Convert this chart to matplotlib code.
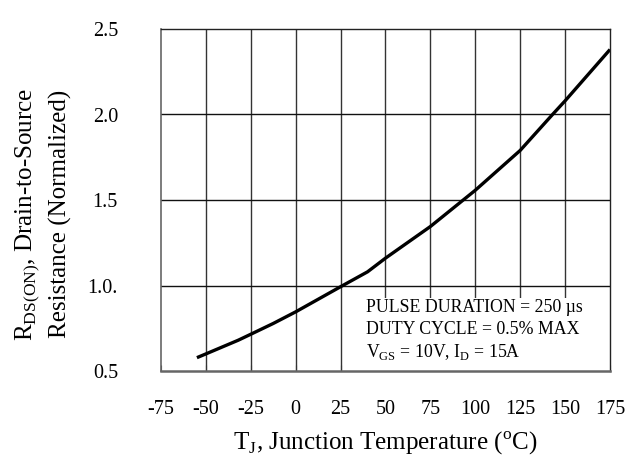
import matplotlib
matplotlib.use("Agg")
import matplotlib.pyplot as plt
from matplotlib.patches import Rectangle

temps = [-55, -50, -32, -25, -12.5, 0, 25, 40, 50, 75, 100, 125, 143, 150, 175]
rds = [0.578, 0.60, 0.68, 0.715, 0.778, 0.846, 0.993, 1.08, 1.16, 1.345, 1.557, 1.79, 2.0, 2.08, 2.38]
xticks = [-75, -50, -25, 0, 25, 50, 75, 100, 125, 150, 175]
yticks = [0.5, 1.0, 1.5, 2.0, 2.5]
ytick_labels = ["0.5", "1.0.", "1.5", "2.0", "2.5"]

plt.rcParams['font.family'] = ['Liberation Serif', 'DejaVu Serif']
plt.rcParams['mathtext.fontset'] = 'custom'
plt.rcParams['mathtext.rm'] = 'Liberation Serif'

fig = plt.figure(figsize=(6.39, 4.61), dpi=100)
ax = fig.add_axes([161/639, 1 - 371/461, (610-161)/639, (371-29)/461])

for x in xticks[1:-1]:
    ax.axvline(x, color='#333333', lw=1.0, zorder=1)
for y in yticks[1:-1]:
    ax.axhline(y, color='#111111', lw=1.0, zorder=1)

# white background box behind the test-condition note
ax.add_patch(Rectangle(((358-161)/449, 0), (610-358)/449, (371-298)/342,
                       transform=ax.transAxes, facecolor='white', edgecolor='none', zorder=2))

ax.plot(temps, rds, color='black', lw=2.4, zorder=3, solid_capstyle='butt')

ax.set_xlim(-75, 175)
ax.set_ylim(0.5, 2.5)
ax.set_xticks(xticks)
ax.set_xticklabels([str(t) for t in xticks])
ax.set_yticks(yticks)
ax.set_yticklabels(ytick_labels)
ax.tick_params(axis='x', direction='in', length=4, width=0.8, pad=21, labelsize=14.5, color='#333333')
ax.tick_params(axis='y', length=0, pad=31, labelsize=14.5)
for t in ax.xaxis.get_major_ticks():
    t.tick1line.set_zorder(4)

for side in ['top', 'right']:
    ax.spines[side].set_color('#222222')
    ax.spines[side].set_linewidth(1.0)
ax.spines['left'].set_color('#666666')
ax.spines['left'].set_linewidth(1.2)
ax.spines['bottom'].set_color('#666666')
ax.spines['bottom'].set_linewidth(1.8)
for s in ax.spines.values():
    s.set_zorder(5)

ax.set_xlabel(r"T$_\mathrm{J}$, Junction Temperature ($^\mathrm{o}$C)", fontsize=18, labelpad=8)
fig.text(28/639, 1 - 214/461, r"R$_\mathrm{DS(ON)}$, Drain-to-Source", rotation=90,
         fontsize=18, ha='center', va='center')
fig.text(60/639, 1 - 214/461, "Resistance (Normalized)", rotation=90,
         fontsize=18, ha='center', va='center')

ax.text(366/639, 1 - 307/461, "PULSE DURATION = 250 µs", transform=fig.transFigure,
        fontsize=12.8, ha='left', va='center', zorder=6)
ax.text(366/639, 1 - 329/461, "DUTY CYCLE = 0.5% MAX", transform=fig.transFigure,
        fontsize=12.8, ha='left', va='center', zorder=6)
ax.text(366/639, 1 - 352/461, r"V$_\mathrm{GS}$ = 10V, I$_\mathrm{D}$ = 15A", transform=fig.transFigure,
        fontsize=12.8, ha='left', va='center', zorder=6)

fig.savefig("out.png", dpi=100)
